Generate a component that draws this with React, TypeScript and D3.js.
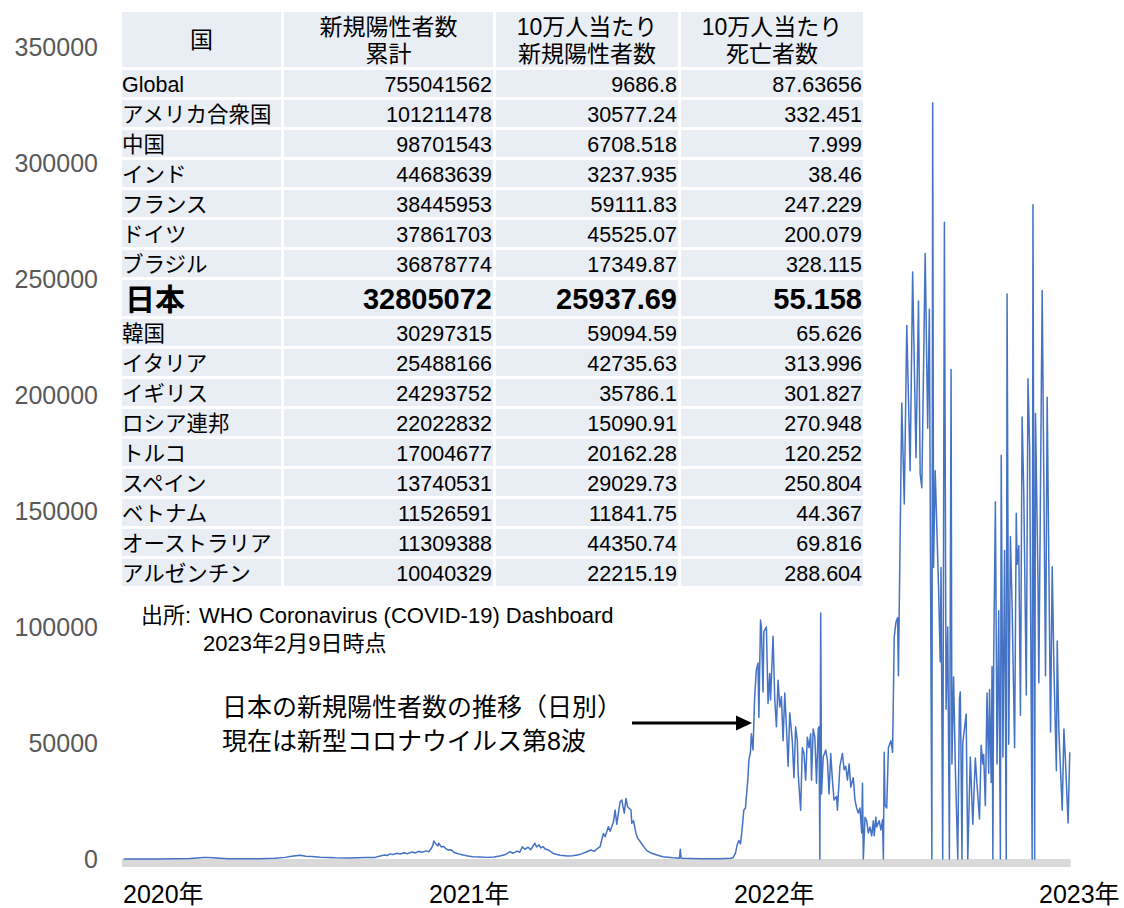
import React from 'react';
import * as d3 from 'd3';

// ---------- data ----------
const yTicks = [0, 50000, 100000, 150000, 200000, 250000, 300000, 350000];
const yearStarts = ['2020-01-01', '2021-01-01', '2022-01-01', '2023-01-01'];
const yearLabels = ['2020年', '2021年', '2022年', '2023年'];

// [days since 2020-01-01, new positive cases]
const cases2020: [number, number][] = [
  [2, 0], [45, 0], [81, 200], [90, 450], [97, 600], [102, 700], [108, 550], [117, 350], [127, 150], [141, 60],
  [165, 100], [183, 300], [195, 700], [203, 1200], [213, 1600], [220, 1200], [227, 1100], [237, 800], [255, 550],
  [273, 450], [291, 600], [303, 700], [309, 1300], [314, 1700], [317, 1500], [321, 2200], [324, 1900], [329, 2500],
  [333, 2100], [337, 2700], [342, 2300], [347, 3000], [351, 2600], [355, 3300], [359, 2900], [364, 3500],
];
const cases2021: [number, number][] = [
  [367, 3100], [370, 4500], [372, 6000], [373, 7800], [376, 6300], [378, 5600], [379, 6800], [382, 5200], [385, 5400],
  [388, 4300], [390, 3900], [394, 4000], [397, 2900], [401, 2400], [404, 2100], [408, 1700], [414, 1300], [420, 1000],
  [428, 900], [437, 700], [445, 900], [452, 1300], [458, 1800], [464, 3100], [468, 2500], [473, 3400], [476, 2900],
  [479, 5300], [482, 4200], [486, 5100], [489, 4000], [494, 6800], [496, 5200], [499, 6100], [501, 4800], [504, 5300],
  [506, 4400], [510, 3900], [516, 2400], [524, 1600], [533, 1300], [539, 1400], [545, 1700], [550, 2200], [556, 3100],
  [561, 3900], [565, 3300], [568, 4300], [572, 5300], [576, 11000], [578, 9600], [582, 13900], [584, 12000],
  [588, 16000], [590, 21100], [592, 15000], [596, 24700], [598, 25400], [601, 19800], [603, 26100], [605, 22500],
  [609, 21000], [610, 15400], [612, 16500], [615, 11000], [617, 9000], [621, 7000], [625, 5000], [628, 3600],
  [633, 2600], [640, 1700], [647, 1000], [659, 500], [667, 300], [668, 4200], [669, 300], [692, 150], [716, 150],
  [728, 300],
];
const cases2022: [number, number][] = [
  [731, 500], [734, 2500], [736, 6000], [738, 8000], [740, 6500], [742, 13000], [744, 21000], [746, 22000],
  [747, 26700], [749, 35000], [750, 42600], [752, 46000], [753, 54000], [755, 47000], [757, 70000], [759, 81500],
  [761, 84500], [762, 61000], [764, 103000], [765, 100000], [767, 72000], [768, 98000], [771, 100000], [773, 67000],
  [775, 80000], [776, 68500], [779, 96000], [781, 69000], [783, 57000], [785, 77000], [787, 65500], [789, 70000],
  [791, 51000], [793, 71500], [795, 57000], [797, 40000], [799, 63000], [802, 51000], [804, 35000], [806, 57000],
  [808, 51000], [809, 37000], [812, 21000], [814, 48000], [816, 45500], [818, 34000], [820, 52500], [822, 48000],
  [824, 54000], [825, 34000], [827, 56000], [829, 52500], [831, 32700], [833, 56000], [834, 57000], [835, 0],
  [836, 106000], [837, 28000], [839, 44000], [842, 47000], [844, 42600], [846, 28000], [848, 45500], [850, 34000],
  [852, 25400], [855, 27000], [856, 21000], [859, 40000], [862, 45500], [864, 38500], [866, 40000], [868, 34000],
  [870, 41000], [872, 31000], [875, 35000], [877, 25400], [879, 22000], [881, 19800], [883, 22000], [885, 11200],
  [886, 32700], [887, 0], [889, 18000], [891, 16500], [893, 11200], [895, 13800], [897, 10000], [899, 16500],
  [900, 10000], [902, 18000], [903, 13800], [906, 16500], [908, 12500], [910, 17000], [911, 0], [912, 46000],
  [913, 23000], [915, 22000], [917, 48000], [920, 51000], [922, 46000], [924, 95700], [926, 102000], [928, 104000],
  [929, 79000], [933, 196600], [936, 153000], [939, 230000], [943, 167400], [946, 253000], [950, 173000],
  [953, 240500], [955, 166000], [957, 160000], [961, 261000], [964, 185700], [966, 237000], [969, 0], [970, 326000],
  [971, 125600], [973, 167400], [977, 117000], [979, 85000], [980, 125600], [982, 0], [984, 274500], [986, 64600],
  [988, 100000], [990, 0], [992, 211000], [993, 41000], [995, 78500], [997, 41000], [1000, 0], [1002, 69000],
  [1003, 72000], [1004, 41000], [1005, 0], [1006, 50000], [1010, 62500], [1012, 0], [1015, 44000], [1018, 15000],
  [1021, 43500], [1023, 32300], [1026, 17200], [1028, 49000], [1030, 41000], [1031, 45000], [1033, 23000],
  [1035, 71500], [1037, 37000], [1038, 73000], [1040, 33000], [1041, 83000], [1042, 0], [1043, 86700],
  [1045, 154000], [1047, 41000], [1049, 107000], [1051, 0], [1052, 174000], [1054, 44000], [1056, 133000],
  [1058, 0], [1059, 243500], [1061, 49500], [1063, 139000], [1065, 109000], [1068, 48000], [1070, 149000],
  [1071, 127000], [1073, 135000], [1075, 62000], [1077, 190500], [1079, 157500], [1082, 70700], [1084, 207000],
  [1086, 177000], [1089, 0], [1090, 282000], [1092, 0], [1093, 192000],
];
const cases2023: [number, number][] = [
  [1096, 120000], [1097, 76000], [1101, 245000], [1105, 79000], [1107, 199000], [1109, 126000], [1111, 54700],
  [1113, 126000], [1115, 83000], [1118, 38000], [1119, 94000], [1121, 54700], [1125, 21000], [1127, 56000],
  [1129, 41000], [1132, 15500], [1134, 46000],
];
const seriesStart = '2020-01-01';
const dataEnd = '2023-02-09';

const headerLines: string[][] = [
  ['国'],
  ['新規陽性者数', '累計'],
  ['10万人当たり', '新規陽性者数'],
  ['10万人当たり', '死亡者数'],
];
const countries = ['Global', 'アメリカ合衆国', '中国', 'インド', 'フランス', 'ドイツ', 'ブラジル', '日本', '韓国', 'イタリア',
  'イギリス', 'ロシア連邦', 'トルコ', 'スペイン', 'ベトナム', 'オーストラリア', 'アルゼンチン'];
const cumulativeCases = [755041562, 101211478, 98701543, 44683639, 38445953, 37861703, 36878774, 32805072, 30297315,
  25488166, 24293752, 22022832, 17004677, 13740531, 11526591, 11309388, 10040329];
const casesPer100k = [9686.8, 30577.24, 6708.518, 3237.935, 59111.83, 45525.07, 17349.87, 25937.69, 59094.59,
  42735.63, 35786.1, 15090.91, 20162.28, 29029.73, 11841.75, 44350.74, 22215.19];
const deathsPer100k = [87.63656, 332.451, 7.999, 38.46, 247.229, 200.079, 328.115, 55.158, 65.626, 313.996, 301.827,
  270.948, 120.252, 250.804, 44.367, 69.816, 288.604];
const highlightCountry = '日本';

const sourceLabel = '出所:';
const sourceText = 'WHO Coronavirus (COVID-19) Dashboard';
const sourceDate = '2023年2月9日時点';
const annotationLines = ['日本の新規陽性者数の推移（日別）', '現在は新型コロナウイルス第8波'];

// ---------- component ----------
const FONT = "'Liberation Sans', Arial, 'Noto Sans CJK JP', sans-serif";

export default function App() {
  const parse = d3.timeParse('%Y-%m-%d');
  const start = parse(seriesStart)!;
  const x = d3.scaleTime()
    .domain([parse(yearStarts[0])!, parse(yearStarts[3])!])
    .range([122, 1038]);
  const y = d3.scaleLinear().domain([0, 350000]).range([859, 47]);

  const all = [...cases2020, ...cases2021, ...cases2022, ...cases2023].map(([d, v]) => ({
    date: d3.timeDay.offset(start, d),
    value: v,
  }));
  const line = d3.line<{ date: Date; value: number }>()
    .x((p) => x(p.date))
    .y((p) => y(p.value));

  const colX = [122, 284, 496, 681];
  const colW = [159, 209, 182, 182];
  const rowTop = (i: number) => 70 + 30 * i + (i > 7 ? 9 : 0);
  const rowH = (i: number) => (countries[i] === highlightCountry ? 36 : 27);
  const fill = '#e9edf4';

  const x0 = x(start);
  const x1 = x(parse(dataEnd)!);

  return (
    <svg width={1124} height={908} style={{ position: 'absolute', left: 0, top: 0, background: '#fff' }}
      fontFamily={FONT}>
      {/* y-axis labels */}
      {yTicks.map((t) => (
        <text key={t} x={98} y={y(t) + 9} textAnchor="end" fontSize={25} fill="#595959">{t}</text>
      ))}
      {/* baseline band */}
      <rect x={x0} y={y(0)} width={x1 - x0} height={8} fill="#d9d9d9" />
      {/* x labels */}
      {yearStarts.map((s, i) => (
        <text key={s} x={x(parse(s)!) + 1} y={903} fontSize={25} fill="#000">{yearLabels[i]}</text>
      ))}
      {/* series */}
      <path d={line(all) || ''} fill="none" stroke="#4472c4" strokeWidth={1.5} strokeLinejoin="round" />

      {/* table header */}
      {headerLines.map((lines, c) => (
        <g key={'h' + c}>
          <rect x={colX[c]} y={12} width={colW[c]} height={55} fill={fill} />
          {lines.map((ln, k) => (
            <text key={k} x={colX[c] + colW[c] / 2} textAnchor="middle" fontSize={23} fill="#000"
              y={lines.length === 1 ? 40 : 27 + k * 27} dominantBaseline="central">{ln}</text>
          ))}
        </g>
      ))}
      {/* table body */}
      {countries.map((name, i) => {
        const top = rowTop(i);
        const h = rowH(i);
        const hi = name === highlightCountry;
        const fs = hi ? 29 : 21.5;
        const fw = hi ? 'bold' : 'normal';
        const cy = top + h / 2 + 1;
        const vals = [cumulativeCases[i], casesPer100k[i], deathsPer100k[i]];
        return (
          <g key={name}>
            {colX.map((cx, c) => (
              <rect key={c} x={cx} y={top} width={colW[c]} height={h} fill={fill} />
            ))}
            <text x={colX[0] + (hi ? 3 : 0)} y={cy} fontSize={hi ? 30 : 21.5} fontWeight={fw}
              dominantBaseline="central" fill="#000">{name}</text>
            {vals.map((v, k) => (
              <text key={k} x={colX[k + 1] + colW[k + 1] - 1} y={cy} textAnchor="end" fontSize={fs}
                fontWeight={fw} dominantBaseline="central" fill="#000">{String(v)}</text>
            ))}
          </g>
        );
      })}

      {/* source */}
      <text x={141} y={615} fontSize={22} dominantBaseline="central" fill="#000">{sourceLabel}</text>
      <text x={199} y={615} fontSize={22} dominantBaseline="central" fill="#000">{sourceText}</text>
      <text x={203} y={643} fontSize={22} dominantBaseline="central" fill="#000">{sourceDate}</text>

      {/* annotation */}
      {annotationLines.map((t, i) => (
        <text key={i} x={222} y={707 + i * 34} fontSize={25} dominantBaseline="central" fill="#000">{t}</text>
      ))}
      <line x1={632} y1={723} x2={738} y2={723} stroke="#000" strokeWidth={3} />
      <path d="M752,723 L736,715.5 L736,730.5 Z" fill="#000" />
    </svg>
  );
}
